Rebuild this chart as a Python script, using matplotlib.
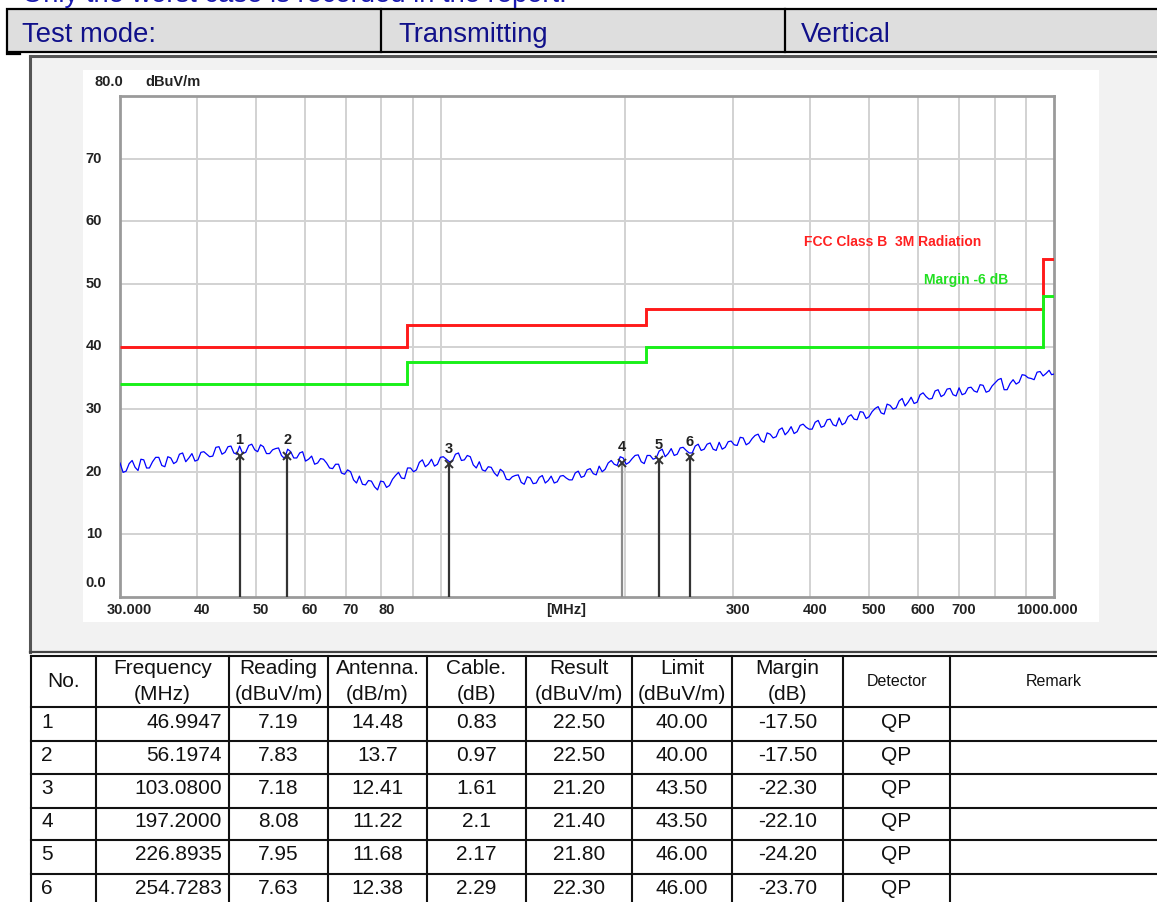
import matplotlib
matplotlib.use('Agg')
import matplotlib.pyplot as plt
from matplotlib.patches import Rectangle
from matplotlib.transforms import offset_copy

plt.rcParams['font.family'] = ['Liberation Sans', 'DejaVu Sans']

# ---------------- data ----------------
trace_freq_a = [30.0, 30.7, 31.4, 32.1, 32.8, 33.5, 34.3, 35.1, 35.9, 36.7, 37.5, 38.4, 39.3, 40.2, 41.1, 42.0,
                43.0, 44.0, 45.0, 46.0, 47.0, 48.1, 49.2, 50.3, 51.4, 52.6, 53.8, 55.0, 56.3, 57.6, 58.9, 60.2,
                61.6, 63.0, 64.4, 65.9, 67.4, 68.9, 70.5, 72.1, 73.7, 75.4, 77.1, 78.9, 80.7, 82.5, 84.4, 86.3,
                88.3, 90.3, 92.3, 94.4, 96.6, 98.8, 101.0, 103.3, 105.7, 108.1, 110.5, 113.0, 115.6, 118.2,
                120.9, 123.7, 126.5, 129.4, 132.3, 135.3, 138.4, 141.5, 144.8, 148.1, 151.4, 154.9, 158.4,
                162.0, 165.7, 169.5, 173.3, 177.3, 181.3, 185.4, 189.7, 194.0, 198.4, 202.9, 207.5, 212.3,
                217.1, 222.0, 227.1, 232.3, 237.6, 243.0, 248.5, 254.2, 260.0, 265.9, 271.9, 278.1, 284.5,
                291.0, 297.6, 304.4, 311.3, 318.4, 325.6, 333.0, 340.6, 348.4, 356.3, 364.4, 372.7, 381.2,
                389.9, 398.8, 407.9, 417.2, 426.7, 436.4, 446.3, 456.5, 466.9, 477.5, 488.4, 499.5, 510.9,
                522.5, 534.4, 546.6, 559.1, 571.8, 584.8, 598.1, 611.7, 625.6, 639.9, 654.5, 669.4, 684.6,
                700.2, 716.2, 732.5, 749.2, 766.3, 783.8, 801.6, 819.9, 838.6, 857.7, 877.2, 897.2, 917.6,
                938.5, 959.9, 981.8, 1000.0]
trace_level_a = [21.4, 20.1, 21.8, 20.2, 21.9, 20.6, 22.3, 21.0, 22.4, 21.3, 22.8, 21.6, 22.9, 21.9, 23.2, 22.4,
                 23.9, 22.8, 24.0, 23.0, 24.1, 23.1, 24.4, 23.2, 24.0, 22.9, 23.7, 22.6, 23.6, 22.2, 23.0, 21.7,
                 22.5, 21.4, 22.0, 20.6, 21.2, 19.8, 20.3, 18.7, 19.3, 17.9, 18.5, 17.1, 18.4, 17.8, 19.4, 19.0,
                 20.6, 20.0, 21.5, 20.8, 22.0, 21.2, 22.4, 21.6, 22.8, 21.8, 22.6, 21.1, 21.6, 20.1,
                 20.7, 19.3, 20.0, 18.7, 19.4, 18.3, 19.2, 18.1, 19.1, 18.2, 19.3, 18.4, 19.4,
                 18.7, 19.8, 19.1, 20.3, 19.7, 20.9, 20.4, 21.8, 21.0, 22.2, 21.5, 22.6, 21.6,
                 22.6, 22.0, 23.3, 22.4, 23.7, 22.8, 23.9, 23.0, 24.1, 23.4, 24.4, 23.6, 24.7,
                 23.9, 24.9, 24.2, 25.4, 24.6, 25.8, 25.0, 26.2, 25.4, 26.7, 25.9, 27.2, 26.4,
                 27.6, 26.8, 27.9, 27.1, 28.3, 27.5, 28.6, 27.8, 29.1, 28.3, 29.5, 28.8, 30.1,
                 29.4, 30.8, 30.0, 31.3, 30.5, 31.9, 31.1, 32.6, 31.6, 32.9, 32.0, 33.2, 32.3,
                 33.4, 32.5, 33.5, 32.7, 33.8, 32.9, 34.2, 34.9, 33.1, 34.7, 34.3, 35.4, 34.9,
                 35.9, 35.3, 36.2, 35.6]
trace_freq_b = [30.35, 31.05, 31.75, 32.45, 33.15, 33.9, 34.7, 35.5, 36.3, 37.1, 37.95, 38.85, 39.75, 40.65,
                41.55, 42.5, 43.5, 44.5, 45.5, 46.5, 47.55, 48.65, 49.75, 50.85, 52.0, 53.2, 54.4, 55.65,
                56.95, 58.25, 59.55, 60.9, 62.3, 63.7, 65.15, 66.65, 68.15, 69.7, 71.3, 72.9, 74.55, 76.25,
                78.0, 79.8, 81.6, 83.45, 85.35, 87.3, 89.3, 91.3, 93.35, 95.5, 97.7, 99.9, 102.15, 104.5,
                106.9, 109.3, 111.75, 114.3, 116.9, 119.55, 122.3, 125.1, 127.95, 130.85, 133.8, 136.85,
                139.95, 143.15, 146.45, 149.75, 153.15, 156.65, 160.2, 163.85, 167.6, 171.4, 175.3, 179.3,
                183.35, 187.55, 191.85, 196.2, 200.65, 205.2, 209.9, 214.7, 219.55, 224.55, 229.7, 234.95,
                240.3, 245.75, 251.35, 257.1, 262.95, 268.9, 275.0, 281.3, 287.75, 294.3, 301.0, 307.85,
                314.85, 322.0, 329.3, 336.8, 344.5, 352.35, 360.35, 368.55, 376.95, 385.55, 394.35, 403.35,
                412.55, 421.95, 431.55, 441.35, 451.4, 461.7, 472.2, 482.95, 493.95, 505.2, 516.7, 528.45,
                540.5, 552.85, 565.45, 578.3, 591.45, 604.9, 618.65, 632.75, 647.2, 661.95, 677.0, 692.4,
                708.2, 724.35, 740.85, 757.75, 775.05, 792.7, 810.75, 829.25, 848.15, 867.45, 887.2, 907.4,
                928.05, 949.2, 970.85, 990.9]
trace_level_b = [19.9, 21.3, 20.7, 22.0, 20.6, 21.6, 22.3, 20.8, 22.2, 21.6, 23.0, 22.2, 21.7, 23.1,
                 22.8, 22.5, 24.0, 23.1, 24.1, 22.8, 22.9, 24.2, 23.5, 24.3, 22.9, 23.5, 23.8, 22.1,
                 23.2, 22.2, 23.2, 22.0, 21.2, 22.1, 21.4, 20.5, 21.2, 19.6, 20.0, 18.2, 18.0, 18.6,
                 17.6, 18.5, 17.5, 18.8, 19.9, 18.9, 20.6, 20.3, 21.9, 21.2, 20.9, 22.3, 22.0, 21.7,
                 23.0, 21.9, 22.4, 20.6, 20.3, 20.8, 19.8, 20.4, 18.8, 19.2, 19.5, 18.0,
                 19.0, 18.2, 19.4, 18.6, 18.2, 19.3, 19.0, 18.7, 20.1, 19.3, 20.5, 19.5,
                 20.0, 21.4, 21.2, 22.4, 21.2, 22.1, 22.7, 21.3, 22.6, 22.2, 23.6, 22.9,
                 22.6, 23.8, 23.4, 23.0, 24.4, 23.6, 24.6, 23.4, 23.6, 24.8, 24.3, 25.5,
                 24.3, 25.3, 26.0, 24.7, 26.0, 25.6, 27.0, 26.4, 26.1, 27.4, 27.1, 26.8,
                 28.2, 27.3, 28.4, 27.3, 27.5, 28.8, 28.4, 29.6, 28.5, 29.6, 30.4, 29.2,
                 30.6, 30.2, 31.7, 31.1, 30.9, 32.3, 32.0, 31.7, 33.1, 32.3, 33.3, 32.1,
                 32.3, 33.4, 32.9, 33.9, 32.7, 33.7, 34.7, 33.1, 34.1, 34.0, 35.5, 35.0,
                 34.7, 36.0, 35.7, 35.5]

limit_edges = [30, 88, 216, 960, 1000]
limit_values = [40.0, 43.5, 46.0, 54.0]
margin_values = [34.0, 37.5, 40.0, 48.0]

row_no = ['1', '2', '3', '4', '5', '6']
row_freq = ['46.9947', '56.1974', '103.0800', '197.2000', '226.8935', '254.7283']
row_reading = ['7.19', '7.83', '7.18', '8.08', '7.95', '7.63']
row_antenna = ['14.48', '13.7', '12.41', '11.22', '11.68', '12.38']
row_cable = ['0.83', '0.97', '1.61', '2.1', '2.17', '2.29']
row_result = [22.50, 22.50, 21.20, 21.40, 21.80, 22.30]
row_limit = [40.00, 40.00, 43.50, 43.50, 46.00, 46.00]
row_margin = [-17.50, -17.50, -22.30, -22.10, -24.20, -23.70]
row_detector = ['QP', 'QP', 'QP', 'QP', 'QP', 'QP']

x_grid = [40, 50, 60, 70, 80, 90, 100, 200, 300, 400, 500, 600, 700, 800, 900]
x_labels = {30: '30.000', 40: '40', 50: '50', 60: '60', 70: '70', 80: '80',
            300: '300', 400: '400', 500: '500', 600: '600', 700: '700', 1000: '1000.000'}
y_grid = [10, 20, 30, 40, 50, 60, 70]
y_labels = {10: '10', 20: '20', 30: '30', 40: '40', 50: '50', 60: '60', 70: '70'}

# merge the two typed sweeps into one frequency-ordered trace
trace = sorted(zip(trace_freq_a + trace_freq_b, trace_level_a + trace_level_b))
trace_freq = [p[0] for p in trace]
trace_level = [p[1] for p in trace]

# ---------------- figure ----------------
W, H = 1157, 902
fig = plt.figure(figsize=(W / 100, H / 100), dpi=100)
bg = fig.add_axes([0, 0, 1, 1])
bg.set_xlim(0, W)
bg.set_ylim(H, 0)
bg.axis('off')

navy = '#10108a'
# top cut-off sentence (only its lower edge is visible, as in the source page)
bg.text(22, 1.5, 'Only the worst case is recorded in the report.', fontsize=19.7,
        color='#1a1ab0', va='baseline', ha='left')

# header row
bg.add_patch(Rectangle((7, 9), W - 7 + 5, 43, facecolor='#dedede', edgecolor='black', lw=1.6))
for xv in [381, 785]:
    bg.plot([xv, xv], [9, 52], color='black', lw=1.6)
bg.plot([7, 20], [53.5, 53.5], color='black', lw=1.6)
for xt, s in [(22, 'Test mode:'), (398, 'Transmitting'), (801, 'Vertical')]:
    bg.text(xt, 34.5, s, fontsize=19.7, color=navy, va='center', ha='left')

# plot panel
bg.add_patch(Rectangle((30, 56), W - 30 + 5, 596, facecolor='#f2f2f2', edgecolor='none'))
bg.plot([30, W], [56, 56], color='#555555', lw=2.2)
bg.plot([30, 30], [56, 652], color='#555555', lw=2.2)
bg.plot([30, W], [652, 652], color='#444444', lw=1.6)
bg.add_patch(Rectangle((83, 70), 1016, 552, facecolor='white', edgecolor='none'))

# data table
col_x = [31, 96, 229, 328, 427, 526, 632, 732, 843, 950, W + 5]
row_y = [656, 707, 741, 774, 807.5, 840, 873.5, 907]
bg.add_patch(Rectangle((31, 656), W - 31 + 5, 260, facecolor='white', edgecolor='none'))
for yv in row_y:
    bg.plot([31, W], [yv, yv], color='#111111', lw=1.5)
for xv in col_x[:-1]:
    bg.plot([xv, xv], [656, H], color='#111111', lw=1.5)

hdr = [('No.', None), ('Frequency', '(MHz)'), ('Reading', '(dBuV/m)'), ('Antenna.', '(dB/m)'),
       ('Cable.', '(dB)'), ('Result', '(dBuV/m)'), ('Limit', '(dBuV/m)'), ('Margin', '(dB)'),
       ('Detector', None), ('Remark', None)]
for i, (l1, l2) in enumerate(hdr):
    cx = (col_x[i] + col_x[i + 1]) / 2
    if i == 9:
        cx = (950 + 1157) / 2
    fs = 11.5 if l1 in ('Detector', 'Remark') else 15
    if l2 is None:
        bg.text(cx, 681.5, l1, fontsize=fs, ha='center', va='center', color='#111111')
    else:
        bg.text(cx, 668, l1, fontsize=15, ha='center', va='center', color='#111111')
        bg.text(cx, 695, l2, fontsize=15, ha='center', va='center', color='#111111')

for r in range(6):
    cy = (row_y[r + 1] + row_y[r + 2]) / 2 - 2
    vals = [row_no[r], row_freq[r], row_reading[r], row_antenna[r], row_cable[r],
            f'{row_result[r]:.2f}', f'{row_limit[r]:.2f}', f'{row_margin[r]:.2f}', row_detector[r]]
    for c, v in enumerate(vals):
        if c == 0:
            bg.text(41, cy, v, fontsize=15, ha='left', va='center', color='#111111')
        elif c == 1:
            bg.text(222, cy, v, fontsize=15, ha='right', va='center', color='#111111')
        else:
            cx = (col_x[c] + col_x[c + 1]) / 2
            bg.text(cx, cy, v, fontsize=15, ha='center', va='center', color='#111111')

# ---------------- chart ----------------
x0, x1, y0, y1 = 120, 1054, 96, 597
ax = fig.add_axes([x0 / W, (H - y1) / H, (x1 - x0) / W, (y1 - y0) / H])
ax.set_xscale('log')
ax.set_xlim(30, 1000)
ax.set_ylim(0, 80)
ax.set_facecolor('white')
ax.set_xticks(x_grid)
ax.set_xticks([], minor=True)
ax.set_yticks(y_grid)
ax.set_xticklabels([])
ax.set_yticklabels([])
ax.tick_params(length=0, which='both')
ax.grid(True, color='#d2d2d2', lw=1.4)
ax.set_axisbelow(True)
for s in ax.spines.values():
    s.set_color('#9a9a9a')
    s.set_linewidth(2.0)

ax.stairs(limit_values, limit_edges, baseline=None, color='#ff1a1a', lw=2.1, zorder=3)
ax.stairs(margin_values, limit_edges, baseline=None, color='#19f019', lw=2.1, zorder=3)
ax.plot(trace_freq, trace_level, color='#0000ff', lw=0.9, zorder=4)

tfont = dict(fontsize=10.5, fontweight='bold', color='#222222')
for i, (f, v) in enumerate(zip(row_freq, row_result)):
    fv = float(f)
    lc = '#8a8a8a' if i == 3 else '#333333'
    ax.plot([fv, fv], [0, v], color=lc, lw=1.6, zorder=5, solid_capstyle='butt')
    ax.plot([fv], [v], marker='x', ms=5.5, mew=1.4, color='#333333', zorder=6)
    ax.text(fv, v + 2.5, row_no[i], ha='center', va='center', zorder=6, **tfont)

# tick labels
for xv, lab in x_labels.items():
    dx = 9 if xv == 30 else (-7 if xv == 1000 else 5)
    tr = offset_copy(ax.get_xaxis_transform(), fig=fig, x=dx, y=0, units='dots')
    ax.text(xv, -0.025, lab, transform=tr, ha='center', va='center', **tfont)
ax.text(160, -0.025, '[MHz]', transform=ax.get_xaxis_transform(), ha='center', va='center', **tfont)

for yv, lab in y_labels.items():
    ax.text(-0.0193, yv, lab, transform=ax.get_yaxis_transform(), ha='right', va='center', **tfont)
ax.text(-0.015, 2.3, '0.0', transform=ax.get_yaxis_transform(), ha='right', va='center', **tfont)
ax.text(0.004, 82.2, '80.0', transform=ax.get_yaxis_transform(), ha='right', va='center',
        clip_on=False, **tfont)
ax.text(0.0268, 82.2, 'dBuV/m', transform=ax.get_yaxis_transform(), ha='left', va='center',
        clip_on=False, **tfont)

ax.text(390.7, 56.7, 'FCC Class B  3M Radiation', ha='left', va='center', fontsize=10.0,
        fontweight='bold', color='#ff2020', zorder=6)
ax.text(613, 50.6, 'Margin -6 dB', ha='left', va='center', fontsize=10.0,
        fontweight='bold', color='#22e022', zorder=6)

fig.savefig('out.png', dpi=100)
